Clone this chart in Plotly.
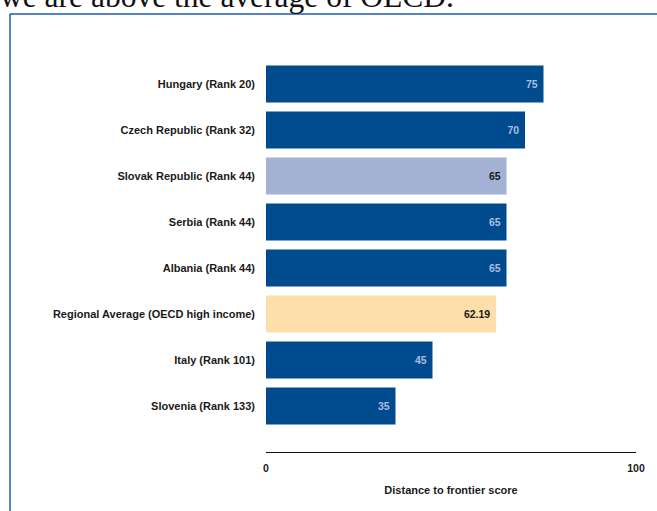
import plotly.graph_objects as go

# Doing Business: distance to frontier scores
countries = [
    "Hungary (Rank 20)",
    "Czech Republic (Rank 32)",
    "Slovak Republic (Rank 44)",
    "Serbia (Rank 44)",
    "Albania (Rank 44)",
    "Regional Average (OECD high income)",
    "Italy (Rank 101)",
    "Slovenia (Rank 133)",
]
scores = [75, 70, 65, 65, 65, 62.19, 45, 35]
value_labels = ["75", "70", "65", "65", "65", "62.19", "45", "35"]

DARK = "#004b8d"
LIGHT = "#a3b1d5"
PEACH = "#fddfa9"
bar_colors = [DARK, DARK, LIGHT, DARK, DARK, PEACH, DARK, DARK]
label_colors = ["#a9bde3" if c == DARK else "#1a1a1a" for c in bar_colors]

W, H = 657, 511
L, R, T, B = 266, 21, 61, 59
plot_w = W - L - R
plot_h = H - T - B


def px_x(p):
    return (p - L) / plot_w


def px_y(p):
    return 1 - (p - T) / plot_h


fig = go.Figure(
    go.Bar(
        x=scores,
        y=countries,
        orientation="h",
        width=0.8,
        marker=dict(color=bar_colors, line=dict(width=0)),
        text=["<b>%s</b>&nbsp;" % v for v in value_labels],
        textposition="inside",
        insidetextanchor="end",
        textangle=0,
        textfont=dict(family="Liberation Sans", size=10.5, color=label_colors),
        cliponaxis=False,
        hoverinfo="skip",
    )
)

fig.update_layout(
    width=W,
    height=H,
    margin=dict(l=L, r=R, t=T, b=B),
    paper_bgcolor="white",
    plot_bgcolor="white",
    showlegend=False,
    font=dict(family="Liberation Sans", color="#1a1a1a"),
    xaxis=dict(
        range=[0, 100],
        tickvals=[0, 100],
        ticktext=["<b>0</b>", "<b>100</b>"],
        tickfont=dict(size=10.5, color="#1a1a1a"),
        showgrid=False,
        zeroline=False,
        showline=True,
        linecolor="#111111",
        linewidth=1,
        ticks="",
        ticklabelstandoff=6,
        title=dict(
            text="<b>Distance to frontier score</b>",
            font=dict(size=11, color="#1a1a1a"),
            standoff=13,
        ),
    ),
    yaxis=dict(
        categoryorder="array",
        categoryarray=countries,
        range=[8, -0.5],
        tickvals=countries,
        ticktext=["<b>%s</b>" % c for c in countries],
        tickfont=dict(size=11, color="#1a1a1a"),
        showgrid=False,
        zeroline=False,
        showline=False,
        ticks="",
        ticklabelstandoff=10,
    ),
    shapes=[
        dict(type="line", xref="paper", yref="paper",
             x0=px_x(10), x1=px_x(10), y0=px_y(14), y1=px_y(512),
             line=dict(color="#1a5cb0", width=1.5)),
        dict(type="line", xref="paper", yref="paper",
             x0=px_x(10), x1=px_x(660), y0=px_y(14), y1=px_y(14),
             line=dict(color="#1a5cb0", width=1.5)),
    ],
    annotations=[
        dict(
            text="we are above the average of OECD.",
            xref="paper", yref="paper",
            x=px_x(456), y=px_y(16),
            xanchor="right", yanchor="bottom",
            showarrow=False,
            font=dict(family="Liberation Serif", size=31.5, color="#111111"),
        )
    ],
)

fig.write_html("out.html")
